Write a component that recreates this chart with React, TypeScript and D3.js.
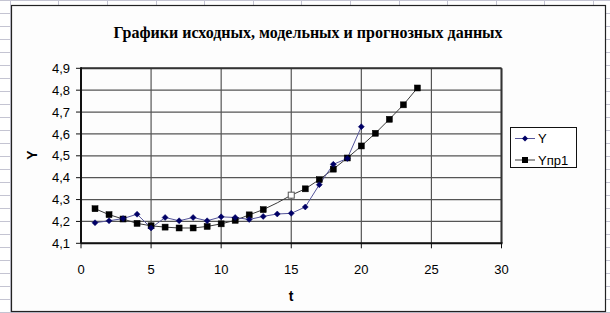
import React from "react";
import * as d3 from "d3";

const title = "Графики исходных, модельных и прогнозных данных";
const tY = [1, 2, 3, 4, 5, 6, 7, 8, 9, 10, 11, 12, 13, 14, 15, 16, 17, 18, 19, 20];
const yValues = [4.194, 4.203, 4.213, 4.233, 4.17, 4.218, 4.203, 4.218, 4.203, 4.221, 4.218, 4.209, 4.223, 4.234, 4.237, 4.266, 4.368, 4.461, 4.488, 4.633];
const tP = [1, 2, 3, 4, 5, 6, 7, 8, 9, 10, 11, 12, 13, 14, 15, 16, 17, 18, 19, 20, 21, 22, 23, 24];
const pValues = [4.258, 4.231, 4.211, 4.191, 4.18, 4.174, 4.17, 4.17, 4.177, 4.189, 4.205, 4.23, 4.254, 4.285, 4.32, 4.349, 4.391, 4.439, 4.49, 4.545, 4.603, 4.667, 4.733, 4.81];
const hiddenMarkerT = [14];
const hollowMarkerT = [15];
const xTicks = [0, 5, 10, 15, 20, 25, 30];
const yTicks = [4.1, 4.2, 4.3, 4.4, 4.5, 4.6, 4.7, 4.8, 4.9];
const seriesNames = ["Y", "Yпр1"];

const W = 610, H = 313;
const PL = 81, PR = 501.5, PT = 68.3, PB = 243.3;

export default function App() {
  const x = d3.scaleLinear().domain([0, 30]).range([PL, PR]);
  const y = d3.scaleLinear().domain([4.1, 4.9]).range([PB, PT]);
  const lineY = d3.line<number>().x((_, i) => x(tY[i])).y((v) => y(v));
  const lineP = d3.line<number>().x((_, i) => x(tP[i])).y((v) => y(v));
  const fmt = (v: number) => d3.format(".1f")(v).replace(".", ",");
  const sheetRows = d3.range(0, H, 13);
  const sheetCols = d3.range(9.8, W, 48.6);
  const sans = "'Liberation Sans', Arial, sans-serif";
  const diamond = (cx: number, cy: number, r: number) =>
    `M${cx},${cy - r}L${cx + r},${cy}L${cx},${cy + r}L${cx - r},${cy}Z`;

  return (
    <svg width={W} height={H} style={{ position: "absolute", left: 0, top: 0, display: "block" }}>
      <rect x={0} y={0} width={W} height={H} fill="#ffffff" />
      {sheetRows.map((r) => (
        <line key={"r" + r} x1={0} x2={W} y1={r + 0.5} y2={r + 0.5} stroke="#c4c4d2" strokeWidth={1} />
      ))}
      {sheetCols.map((c) => (
        <line key={"c" + c} x1={Math.round(c) + 0.5} x2={Math.round(c) + 0.5} y1={0} y2={H} stroke="#c4c4d2" strokeWidth={1} />
      ))}
      <rect x={11.5} y={5.5} width={594} height={306} fill="#fdfdfd" stroke="#222" strokeWidth={1.2} />
      <text x={308} y={38} textAnchor="middle" fontFamily="'Liberation Serif', 'Times New Roman', serif" fontWeight="bold" fontSize={16} fill="#000">
        {title}
      </text>
      {/* gridlines */}
      {yTicks.map((v) => (
        <line key={"gy" + v} x1={PL} x2={PR} y1={y(v)} y2={y(v)} stroke="#555" strokeWidth={1.2} />
      ))}
      {xTicks.map((v) => (
        <line key={"gx" + v} x1={x(v)} x2={x(v)} y1={PT} y2={PB} stroke="#555" strokeWidth={1.2} />
      ))}
      {/* plot border */}
      <line x1={PL} x2={PR} y1={PT} y2={PT} stroke="#333" strokeWidth={2} />
      <line x1={PR} x2={PR} y1={PT} y2={PB} stroke="#333" strokeWidth={2} />
      <line x1={PL} x2={PR + 1} y1={PB} y2={PB} stroke="#111" strokeWidth={2} />
      <line x1={PL} x2={PL} y1={PT - 1} y2={PB} stroke="#111" strokeWidth={2} />
      {/* ticks */}
      {yTicks.map((v) => (
        <g key={"ty" + v}>
          <line x1={PL - 5} x2={PL} y1={y(v)} y2={y(v)} stroke="#111" strokeWidth={1} />
          <text x={70} y={y(v) + 4.6} textAnchor="end" fontFamily={sans} fontSize={13} fill="#000">
            {fmt(v)}
          </text>
        </g>
      ))}
      {xTicks.map((v) => (
        <g key={"tx" + v}>
          <line x1={x(v)} x2={x(v)} y1={PB} y2={PB + 5} stroke="#111" strokeWidth={1} />
          <text x={x(v)} y={273.8} textAnchor="middle" fontFamily={sans} fontSize={13} fill="#000">
            {v}
          </text>
        </g>
      ))}
      <text x={291} y={301} textAnchor="middle" fontFamily={sans} fontWeight="bold" fontSize={14} fill="#000">
        t
      </text>
      <text transform="translate(37,155) rotate(-90)" textAnchor="middle" fontFamily={sans} fontWeight="bold" fontSize={14} fill="#000">
        Y
      </text>
      {/* series */}
      <path d={lineP(pValues) || ""} fill="none" stroke="#3a3a3a" strokeWidth={1} />
      <path d={lineY(yValues) || ""} fill="none" stroke="#55559a" strokeWidth={1} />
      {pValues.map((v, i) => {
        const t = tP[i];
        if (hiddenMarkerT.includes(t)) return null;
        const hollow = hollowMarkerT.includes(t);
        return (
          <rect key={"p" + t} x={x(t) - 3} y={y(v) - 3} width={6} height={6}
            fill={hollow ? "#fff" : "#000"} stroke={hollow ? "#555" : "#000"} strokeWidth={hollow ? 1 : 0.5} />
        );
      })}
      {yValues.map((v, i) => (
        <path key={"y" + i} d={diamond(x(tY[i]), y(v), 3)} fill="#000066" stroke="#000066" strokeWidth={0.5} />
      ))}
      {/* legend */}
      <rect x={510.5} y={127.5} width={66} height={40} fill="#fff" stroke="#111" strokeWidth={1} />
      <line x1={515} x2={535} y1={138.5} y2={138.5} stroke="#55559a" strokeWidth={1} />
      <path d={diamond(525, 138.5, 3)} fill="#000066" />
      <text x={538} y={143.2} fontFamily={sans} fontSize={13} fill="#000">{seriesNames[0]}</text>
      <line x1={515} x2={535} y1={160} y2={160} stroke="#3a3a3a" strokeWidth={1} />
      <rect x={522} y={157} width={6} height={6} fill="#000" />
      <text x={538} y={164.7} fontFamily={sans} fontSize={13} fill="#000">{seriesNames[1]}</text>
    </svg>
  );
}
